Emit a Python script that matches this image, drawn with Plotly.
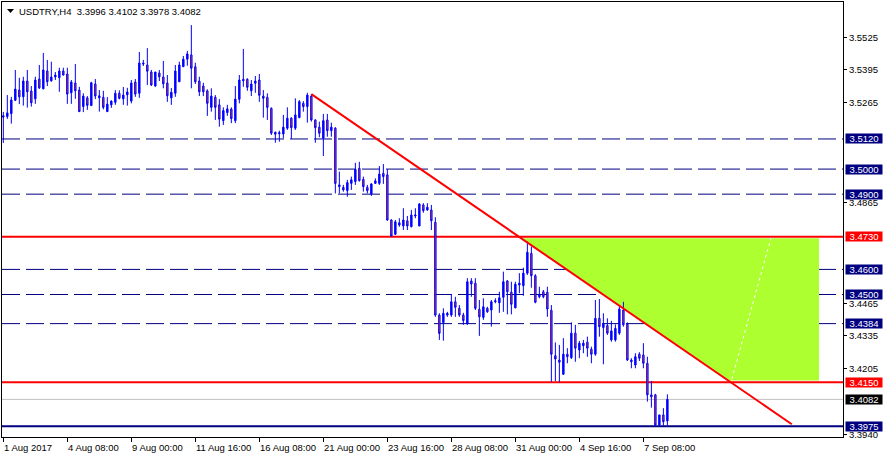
import plotly.graph_objects as go

# ---------------- data (USDTRY, H4) ----------------
opens = [3.5213,3.5209,3.5221,3.5274,3.5315,3.5288,3.5351,3.5311,3.5280,3.5359,
3.5320,3.5391,3.5352,3.5367,3.5364,3.5391,3.5379,3.5304,3.5343,3.5315,
3.5249,3.5284,3.5253,3.5339,3.5284,3.5286,3.5229,3.5256,3.5266,3.5302,
3.5280,3.5296,3.5271,3.5347,3.5302,3.5423,3.5415,3.5387,3.5331,3.5383,
3.5367,3.5343,3.5284,3.5302,3.5348,3.5408,3.5438,3.5455,3.5408,3.5351,
3.5331,3.5312,3.5246,3.5286,3.5256,3.5193,3.5225,3.5239,3.5193,3.5278,
3.5358,3.5358,3.5312,3.5342,3.5355,3.5291,3.5286,3.5242,3.5147,3.5141,
3.5140,3.5163,3.5203,3.5163,3.5205,3.5262,3.5249,3.5291,3.5196,3.5167,
3.5123,3.5196,3.5153,3.5163,3.4930,3.4927,3.4914,3.4943,3.4950,3.5003,
3.4959,3.4927,3.4901,3.4943,3.4943,3.4983,3.4977,3.4797,3.4740,3.4777,
3.4773,3.4794,3.4770,3.4813,3.4773,3.4857,3.4837,3.4837,3.4788,3.4418,
3.4388,3.4418,3.4418,3.4471,3.4445,3.4418,3.4383,3.4554,3.4545,3.4441,
3.4409,3.4445,3.4438,3.4471,3.4467,3.4489,3.4554,3.4509,3.4447,3.4538,
3.4535,3.4585,3.4664,3.4575,3.4491,3.4511,3.4509,3.4437,3.4256,3.4239,
3.4182,3.4262,3.4248,3.4346,3.4279,3.4296,3.4310,3.4282,3.4262,3.4405,
3.4368,3.4376,3.4319,3.4319,3.4346,3.4438,3.4382,3.4239,3.4219,3.4262,
3.4259,3.4226,3.4100,3.4100,3.3980,3.4020,3.3996]

highs = [3.5228,3.5295,3.5288,3.5395,3.5364,3.5368,3.5395,3.5331,3.5368,3.5415,
3.5463,3.5435,3.5428,3.5387,3.5404,3.5404,3.5404,3.5355,3.5419,3.5328,
3.5302,3.5291,3.5348,3.5359,3.5315,3.5312,3.5287,3.5274,3.5315,3.5314,
3.5327,3.5324,3.5355,3.5359,3.5467,3.5435,3.5482,3.5395,3.5387,3.5395,
3.5431,3.5375,3.5323,3.5415,3.5428,3.5451,3.5471,3.5574,3.5424,3.5368,
3.5344,3.5318,3.5322,3.5295,3.5279,3.5246,3.5256,3.5246,3.5331,3.5375,
3.5479,3.5362,3.5355,3.5371,3.5379,3.5315,3.5302,3.5246,3.5149,3.5153,
3.5216,3.5246,3.5207,3.5282,3.5275,3.5271,3.5304,3.5299,3.5198,3.5189,
3.5220,3.5220,3.5185,3.5167,3.4990,3.4937,3.4957,3.4970,3.5025,3.5029,
3.4970,3.4937,3.4943,3.4963,3.5012,3.5020,3.4999,3.4800,3.4797,3.4804,
3.4844,3.4813,3.4837,3.4844,3.4864,3.4864,3.4864,3.4857,3.4808,3.4425,
3.4445,3.4431,3.4502,3.4491,3.4458,3.4427,3.4565,3.4565,3.4565,3.4478,
3.4485,3.4451,3.4478,3.4485,3.4511,3.4591,3.4558,3.4551,3.4551,3.4585,
3.4607,3.4711,3.4691,3.4581,3.4531,3.4518,3.4531,3.4458,3.4309,3.4299,
3.4326,3.4286,3.4389,3.4379,3.4315,3.4319,3.4332,3.4292,3.4478,3.4482,
3.4425,3.4405,3.4395,3.4381,3.4455,3.4471,3.4389,3.4246,3.4266,3.4270,
3.4306,3.4252,3.4155,3.4104,3.4020,3.4047,3.4102]

lows = [3.5104,3.5200,3.5181,3.5271,3.5259,3.5253,3.5245,3.5249,3.5260,3.5319,
3.5318,3.5331,3.5348,3.5355,3.5308,3.5373,3.5260,3.5260,3.5280,3.5228,
3.5227,3.5236,3.5252,3.5279,3.5229,3.5238,3.5229,3.5244,3.5256,3.5278,
3.5256,3.5253,3.5262,3.5288,3.5284,3.5411,3.5335,3.5331,3.5328,3.5351,
3.5322,3.5268,3.5256,3.5288,3.5347,3.5407,3.5412,3.5322,3.5339,3.5291,
3.5291,3.5212,3.5229,3.5196,3.5169,3.5176,3.5212,3.5183,3.5183,3.5262,
3.5328,3.5312,3.5291,3.5304,3.5268,3.5205,3.5196,3.5136,3.5105,3.5109,
3.5123,3.5156,3.5120,3.5156,3.5203,3.5229,3.5185,3.5189,3.5105,3.5127,
3.5052,3.5129,3.5129,3.4903,3.4903,3.4910,3.4890,3.4917,3.4937,3.4950,
3.4910,3.4903,3.4893,3.4941,3.4937,3.4941,3.4794,3.4731,3.4737,3.4770,
3.4757,3.4757,3.4768,3.4804,3.4773,3.4826,3.4834,3.4757,3.4411,3.4319,
3.4316,3.4411,3.4411,3.4411,3.4411,3.4379,3.4379,3.4491,3.4438,3.4335,
3.4399,3.4427,3.4372,3.4465,3.4427,3.4431,3.4421,3.4421,3.4445,3.4505,
3.4495,3.4578,3.4527,3.4465,3.4485,3.4485,3.4411,3.4152,3.4155,3.4150,
3.4179,3.4226,3.4243,3.4232,3.4246,3.4266,3.4252,3.4226,3.4256,3.4332,
3.4222,3.4339,3.4312,3.4312,3.4339,3.4372,3.4235,3.4206,3.4206,3.4235,
3.4206,3.4073,3.4049,3.3976,3.3976,3.3977,3.3978]

closes = [3.5207,3.5224,3.5275,3.5319,3.5288,3.5351,3.5308,3.5264,3.5355,3.5324,
3.5395,3.5348,3.5367,3.5375,3.5391,3.5375,3.5299,3.5347,3.5312,3.5229,
3.5291,3.5254,3.5344,3.5291,3.5292,3.5246,3.5259,3.5271,3.5302,3.5282,
3.5295,3.5307,3.5343,3.5299,3.5423,3.5419,3.5390,3.5335,3.5387,3.5368,
3.5340,3.5292,3.5306,3.5391,3.5415,3.5438,3.5459,3.5402,3.5348,3.5308,
3.5308,3.5262,3.5291,3.5246,3.5199,3.5233,3.5240,3.5201,3.5279,3.5355,
3.5352,3.5326,3.5339,3.5351,3.5294,3.5282,3.5246,3.5143,3.5139,3.5145,
3.5167,3.5203,3.5165,3.5216,3.5269,3.5249,3.5295,3.5196,3.5165,3.5143,
3.5193,3.5153,3.5167,3.4943,3.4937,3.4917,3.4946,3.4957,3.4999,3.4954,
3.4930,3.4914,3.4941,3.4953,3.4980,3.4970,3.4797,3.4733,3.4790,3.4786,
3.4797,3.4773,3.4817,3.4817,3.4861,3.4834,3.4848,3.4794,3.4418,3.4345,
3.4425,3.4425,3.4471,3.4449,3.4418,3.4396,3.4551,3.4542,3.4445,3.4411,
3.4451,3.4431,3.4471,3.4475,3.4487,3.4551,3.4511,3.4461,3.4541,3.4545,
3.4585,3.4668,3.4575,3.4469,3.4501,3.4491,3.4442,3.4262,3.4243,3.4230,
3.4262,3.4252,3.4346,3.4286,3.4306,3.4306,3.4286,3.4262,3.4405,3.4372,
3.4382,3.4346,3.4355,3.4365,3.4442,3.4379,3.4239,3.4232,3.4252,3.4246,
3.4226,3.4100,3.4092,3.3980,3.4020,3.3993,3.4082]

bars = list(range(len(closes)))

time_tick_bars = [0, 16, 32, 48, 64, 80, 96, 112, 128, 144, 160]
time_tick_labels = ["1 Aug 2017", "4 Aug 08:00", "9 Aug 00:00", "11 Aug 16:00",
                    "16 Aug 08:00", "21 Aug 00:00", "23 Aug 16:00", "28 Aug 08:00",
                    "31 Aug 00:00", "4 Sep 16:00", "7 Sep 08:00"]

price_ticks = [3.5525, 3.5395, 3.5265, 3.4865, 3.4465, 3.4335, 3.4205, 3.3940]

dashed_levels = [3.5120, 3.5000, 3.4900, 3.4600, 3.4500, 3.4384]
red_levels = [3.4730, 3.4150]
support_level = 3.3975
bid_price = 3.4082

trend_start = (77, 3.5299)
trend_end = (197.1, 3.3983)
zone_top = 3.4724
zone_bottom = 3.4157
zone_right_bar = 203.9
dotted_start = (182.1, 3.4163)
dotted_end = (191.9, 3.4725)

header = "USDTRY,H4\u00a0\u00a03.3996 3.4102 3.3978 3.4082"

# ---------------- figure ----------------
FONT = "Liberation Sans, Arial, sans-serif"
NAVY = "#000080"

fig = go.Figure()
fig.add_trace(go.Candlestick(
    x=bars, open=opens, high=highs, low=lows, close=closes,
    increasing=dict(line=dict(color="#0000FF", width=1), fillcolor="#0000FF"),
    decreasing=dict(line=dict(color="#0000FF", width=1), fillcolor="#FF4500"),
    whiskerwidth=0, hoverinfo="skip", showlegend=False,
))

def trend_bar_at(price):
    (b0, p0), (b1, p1) = trend_start, trend_end
    return b0 + (p0 - price) / (p0 - p1) * (b1 - b0)

shapes = []
# green zone
xa = trend_bar_at(zone_top)
xb = trend_bar_at(zone_bottom)
shapes.append(dict(type="path", xref="x", yref="y", layer="below",
                   path=f"M {xa},{zone_top} L {zone_right_bar},{zone_top} L {zone_right_bar},{zone_bottom} L {xb},{zone_bottom} Z",
                   fillcolor="#ADFF2F", line=dict(width=0)))
shapes.append(dict(type="line", xref="x", yref="y", layer="below",
                   x0=dotted_start[0], y0=dotted_start[1], x1=dotted_end[0], y1=dotted_end[1],
                   line=dict(color="white", width=1, dash="dot")))
# dashed levels
for lv in dashed_levels:
    shapes.append(dict(type="line", xref="paper", yref="y", layer="below",
                       x0=0, x1=1, y0=lv, y1=lv, line=dict(color="white", width=1)))
    shapes.append(dict(type="line", xref="paper", yref="y", layer="below",
                       x0=0, x1=1, y0=lv, y1=lv, line=dict(color=NAVY, width=1, dash="18px,6px")))
for lv in red_levels:
    shapes.append(dict(type="line", xref="paper", yref="y", layer="below",
                       x0=0, x1=1, y0=lv, y1=lv, line=dict(color="#FF0000", width=2)))
shapes.append(dict(type="line", xref="paper", yref="y", layer="below",
                   x0=0, x1=1, y0=bid_price, y1=bid_price, line=dict(color="#C0C0C0", width=1)))
shapes.append(dict(type="line", xref="paper", yref="y", layer="below",
                   x0=0, x1=1, y0=support_level, y1=support_level, line=dict(color=NAVY, width=2)))
# trend line
shapes.append(dict(type="line", xref="x", yref="y", layer="above",
                   x0=trend_start[0], y0=trend_start[1], x1=trend_end[0], y1=trend_end[1],
                   line=dict(color="#FF0000", width=2)))
# header triangle
shapes.append(dict(type="path", xref="paper", yref="paper", layer="above",
                   path="M 0.0059,0.9839 L 0.0143,0.9839 L 0.0101,0.9747 Z",
                   fillcolor="black", line=dict(width=0)))

annotations = []
annotations.append(dict(text=header, xref="paper", yref="paper", x=0, y=1,
                        xanchor="left", yanchor="top", xshift=15, yshift=-2,
                        showarrow=False, font=dict(family=FONT, size=9.5, color="black")))
for b, t in zip(time_tick_bars, time_tick_labels):
    annotations.append(dict(text=t, xref="x", yref="paper", x=b, y=0,
                            xanchor="left", yanchor="top", yshift=-3, xshift=-1,
                            showarrow=False, font=dict(family=FONT, size=9.5, color="black")))

def level_label(price, bg):
    return dict(text=f"{price:.4f}", xref="paper", yref="y", x=1, y=price,
                xanchor="left", yanchor="middle", xshift=2, width=36, height=9,
                borderpad=0, bgcolor=bg, showarrow=False, align="center",
                font=dict(family=FONT, size=9.5, color="white"))

for lv in dashed_levels:
    annotations.append(level_label(lv, NAVY))
for lv in red_levels:
    annotations.append(level_label(lv, "#FF0000"))
annotations.append(level_label(bid_price, "black"))
annotations.append(level_label(support_level, NAVY))

fig.update_layout(
    width=883, height=459,
    margin=dict(l=2, r=40, t=2, b=22, autoexpand=False),
    paper_bgcolor="white", plot_bgcolor="white",
    showlegend=False, hovermode=False,
    boxgap=0.5,
    shapes=shapes, annotations=annotations,
    font=dict(family=FONT, size=9.5, color="black"),
    xaxis=dict(range=[-0.33, 209.9], showgrid=False, zeroline=False,
               showline=True, linecolor="black", linewidth=1, mirror=True,
               ticks="outside", ticklen=4, tickcolor="black",
               tickvals=time_tick_bars, showticklabels=False,
               rangeslider=dict(visible=False), fixedrange=True, automargin=False),
    yaxis=dict(range=[3.3932, 3.5666], side="right", showgrid=False, zeroline=False,
               showline=True, linecolor="black", linewidth=1, mirror=True,
               ticks="outside", ticklen=3, tickcolor="black",
               tickvals=price_ticks, ticktext=[f"{p:.4f}" for p in price_ticks],
               tickfont=dict(family=FONT, size=9.5, color="black"),
               fixedrange=True, automargin=False),
)

fig.write_html("out.html", config={"displayModeBar": False},
               post_script="document.body.style.margin='0';document.body.style.overflow='hidden';")
